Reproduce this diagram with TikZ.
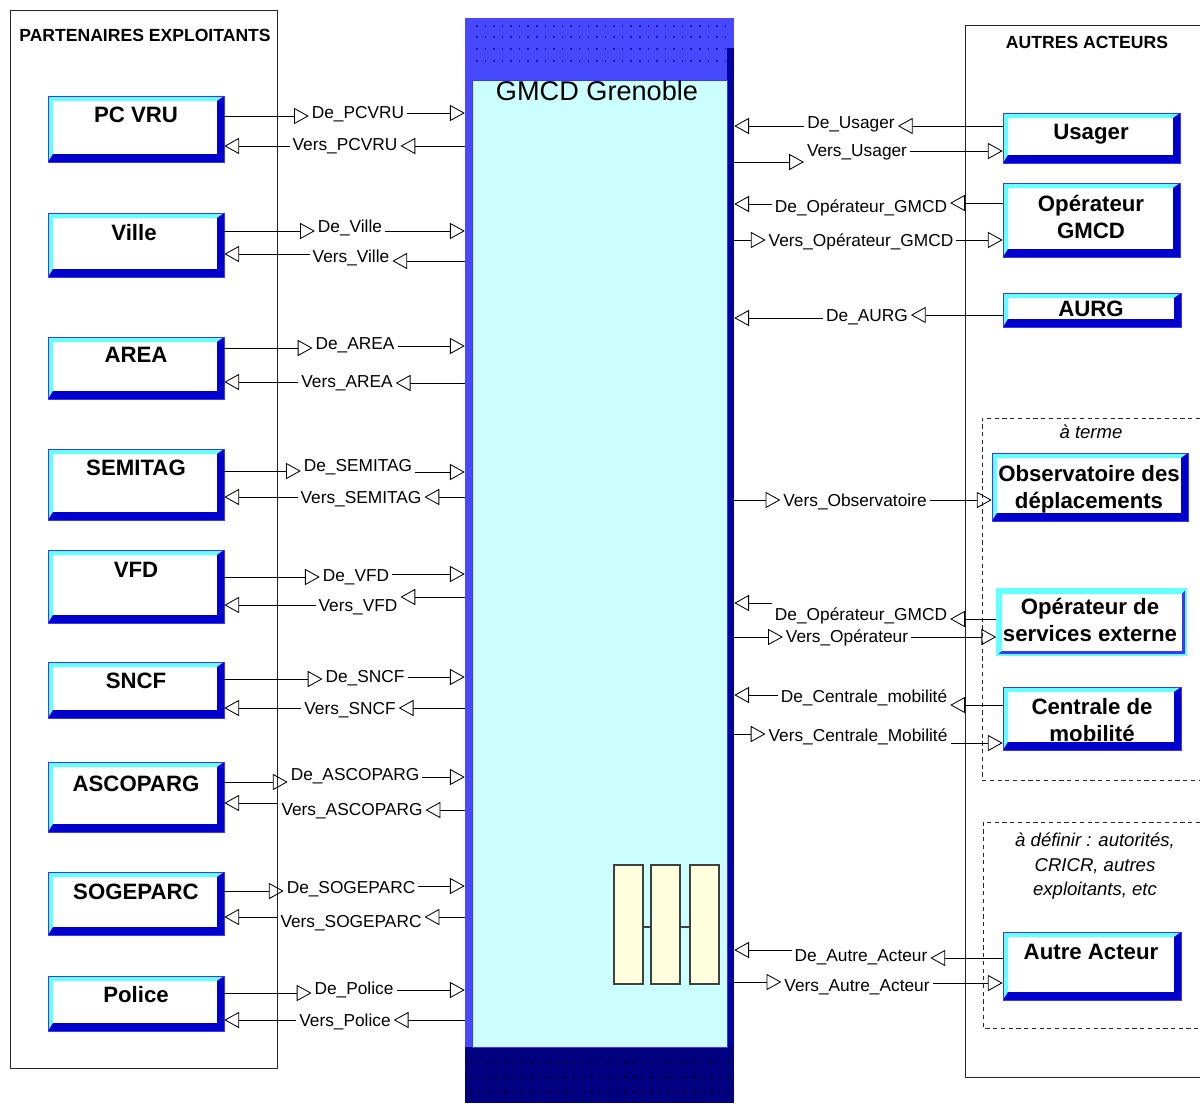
\documentclass[tikz,border=0pt]{standalone}
\usepackage{fontspec}
\setmainfont{Liberation Sans}
\usetikzlibrary{arrows.meta,fit}
\definecolor{bcyan}{HTML}{66FFFF}
\definecolor{bdark}{HTML}{0000CC}
\definecolor{bline}{HTML}{3838FF}
\definecolor{colblue}{HTML}{4848FF}
\definecolor{colnavy}{HTML}{0000A0}
\definecolor{botnavy}{HTML}{000080}
\definecolor{interior}{HTML}{CCFFFF}
\definecolor{ylw}{HTML}{FFFFDD}
\definecolor{dotblue}{HTML}{1818A8}
\newcommand\myfs[2]{\fontsize{#1}{#2}\selectfont}
% rightward connector: source, seg1 y, label name, label x, label y, text, target, seg2 y
\newcommand\cR[8]{%
 \node[lbl] (#3) at (#4,#5) {#6};
 \draw[ln] (#1 |- 0,#2) -- (#3.west |- 0,#2);
 \draw[ln] (#3.east |- 0,#8) -- (#7 |- 0,#8);}
% leftward connector
\newcommand\cL[8]{%
 \node[lbl] (#3) at (#4,#5) {#6};
 \draw[ln] (#1 |- 0,#2) -- (#3.east |- 0,#2);
 \draw[ln] (#3.west |- 0,#8) -- (#7 |- 0,#8);}
\begin{document}
\begin{tikzpicture}[x=0.025cm,y=-0.025cm,
 oa/.tip={Triangle[open,length=10.5pt,width=11.5pt,line width=0.6pt]},
 ln/.style={line width=0.7pt,-{oa}},
 lbl/.style={font=\myfs{12.3}{14},inner sep=2pt,text height=8.8pt,text depth=0pt},
 btxt/.style={font=\bfseries\myfs{15.8}{19.2},align=center,inner sep=0pt,text height=11.3pt,text depth=0pt},
 ttl/.style={font=\bfseries\myfs{12.5}{14},inner sep=0pt,text height=9pt,text depth=0pt},
 note/.style={font=\itshape\myfs{13.2}{17.4},align=center,inner sep=0pt,text height=9.5pt,text depth=0pt},
 bevel/.style={inner sep=0pt,draw=bline,line width=0.5pt,fill=white,
  path picture={
   \fill[bcyan] (path picture bounding box.north west) -- (path picture bounding box.north east)
     -- ([shift={(-7,5)}]path picture bounding box.north east) -- ([shift={(5,5)}]path picture bounding box.north west)
     -- ([shift={(5,-8)}]path picture bounding box.south west) -- (path picture bounding box.south west) -- cycle;
   \fill[bdark] (path picture bounding box.north east) -- (path picture bounding box.south east)
     -- (path picture bounding box.south west) -- ([shift={(5,-8)}]path picture bounding box.south west)
     -- ([shift={(-7,-8)}]path picture bounding box.south east) -- ([shift={(-7,5)}]path picture bounding box.north east) -- cycle;
  }},
 bevelb/.style={inner sep=0pt,draw=bcyan,line width=1.2pt,fill=white,
  path picture={
   \fill[bcyan] (path picture bounding box.north west) -- (path picture bounding box.north east)
     -- ([shift={(-4,5)}]path picture bounding box.north east) -- ([shift={(5,5)}]path picture bounding box.north west)
     -- ([shift={(5,-4)}]path picture bounding box.south west) -- (path picture bounding box.south west) -- cycle;
   \fill[bline] (path picture bounding box.north east) -- (path picture bounding box.south east)
     -- (path picture bounding box.south west) -- ([shift={(5,-4)}]path picture bounding box.south west)
     -- ([shift={(-4,-4)}]path picture bounding box.south east) -- ([shift={(-4,5)}]path picture bounding box.north east) -- cycle;
  }},
 yrect/.style={inner sep=0pt,draw=black!75,line width=0.8pt,fill=ylw},
 frame/.style={line width=0.7pt,draw=black!85},
 dframe/.style={line width=0.7pt,draw=black!85,dash pattern=on 3pt off 2.5pt}
]
\useasboundingbox (0,0) rectangle (1200,1103);
\fill[white] (0,0) rectangle (1200,1103);

% ---------- frames ----------
\draw[frame] (10,10) rectangle (277,1068);
\node[ttl] (tleft) at (145,35) {PARTENAIRES EXPLOITANTS};
\draw[frame] (1200,25) -- (965,25) -- (965,1077) -- (1200,1077);
\node[ttl] (tright) at (1087,42) {AUTRES ACTEURS};
\draw[dframe] (1200,418) -- (982,418) -- (982,780) -- (1200,780);
\node[note] (aterme) at (1091,432) {à terme};
\draw[dframe] (1200,822) -- (983,822) -- (983,1028) -- (1200,1028);
\node[note] (adefinir) at (1095,889) {à définir : autorités,\\CRICR, autres\\exploitants, etc};

% ---------- central column ----------
\node[inner sep=0pt,fit={(465,18) (734,1103)}] (col) {};
\fill[colblue] (col.north west) rectangle (col.south east);
\fill[colnavy] (727,48) rectangle (734,1047);
\fill[botnavy] (465,1047) rectangle (734,1103);
\filldraw[fill=interior,draw=bline,line width=0.6pt] (472,80) rectangle (727,1047);
\foreach \yy in {26,37,49,61}
  \draw[dotblue,line width=1.1pt,dash pattern=on 1.1pt off 5pt] (476,\yy) -- (728,\yy);
\foreach \yy in {1062,1077,1092}
  \draw[black,line width=1.1pt,dash pattern=on 1.1pt off 5pt] (470,\yy) -- (730,\yy);
\node[font=\myfs{19.3}{22},inner sep=0pt,text height=13.8pt,text depth=0pt] (gmcd) at (597,91) {GMCD Grenoble};
\node[yrect,fit={(614,865) (643,984)}] (y1) {};
\node[yrect,fit={(651,865) (680,984)}] (y2) {};
\node[yrect,fit={(690,865) (719,984)}] (y3) {};
\draw[line width=0.8pt,black!75] (y1.east |- 0,927) -- (y2.west |- 0,927);
\draw[line width=0.8pt,black!75] (y2.east |- 0,927) -- (y3.west |- 0,927);

% ---------- left boxes ----------
\node[bevel,fit={(48,96) (224,162)}] (pcvru) {};
\node[btxt] (pcvru-t) at (136,115) {PC VRU};
\node[bevel,fit={(48,213) (224,277)}] (ville) {};
\node[btxt] (ville-t) at (134,233) {Ville};
\node[bevel,fit={(48,337) (224,399)}] (area) {};
\node[btxt] (area-t) at (136,355) {AREA};
\node[bevel,fit={(48,449) (224,520)}] (semitag) {};
\node[btxt] (semitag-t) at (136,468) {SEMITAG};
\node[bevel,fit={(48,550) (224,623)}] (vfd) {};
\node[btxt] (vfd-t) at (136,570) {VFD};
\node[bevel,fit={(48,662) (224,718)}] (sncf) {};
\node[btxt] (sncf-t) at (136,681) {SNCF};
\node[bevel,fit={(48,762) (224,832)}] (ascoparg) {};
\node[btxt] (ascoparg-t) at (136,784) {ASCOPARG};
\node[bevel,fit={(48,872) (224,935)}] (sogeparc) {};
\node[btxt] (sogeparc-t) at (136,892) {SOGEPARC};
\node[bevel,fit={(48,976) (224,1031)}] (police) {};
\node[btxt] (police-t) at (136,995) {Police};

% ---------- right boxes ----------
\node[bevel,fit={(1003,113) (1180,163)}] (usager) {};
\node[btxt] (usager-t) at (1091,132) {Usager};
\node[bevel,fit={(1003,183) (1180,257)}] (opgmcd) {};
\node[btxt] (opgmcd-t) at (1091,231) {Opérateur\\GMCD};
\node[bevel,fit={(1003,293) (1181,327)}] (aurg) {};
\node[btxt] (aurg-t) at (1091,309) {AURG};
\node[bevel,fit={(992,453) (1188,521)}] (obs) {};
\node[btxt] (obs-t) at (1089,501) {Observatoire des\\déplacements};
\node[bevelb,fit={(997,589) (1186,655)}] (opserv) {};
\node[btxt] (opserv-t) at (1090,634) {Opérateur de\\services externe};
\node[bevel,fit={(1003,687) (1181,750)}] (centrale) {};
\node[btxt] (centrale-t) at (1092,734) {Centrale de\\mobilité};
\node[bevel,fit={(1003,932) (1181,1000)}] (autre) {};
\node[btxt] (autre-t) at (1091,952) {Autre Acteur};

% ---------- left connectors ----------
\cR{pcvru.east}{116}{l1a}{358}{112}{De\_PCVRU}{col.west}{113}
\cL{col.west}{146}{l1b}{345}{144}{Vers\_PCVRU}{pcvru.east}{146}
\cR{ville.east}{231}{l2a}{350}{226}{De\_Ville}{col.west}{231}
\cL{col.west}{261}{l2b}{351}{256}{Vers\_Ville}{ville.east}{254}
\cR{area.east}{348}{l3a}{355}{343}{De\_AREA}{col.west}{346}
\cL{col.west}{383}{l3b}{347}{381}{Vers\_AREA}{area.east}{382}
\cR{semitag.east}{471}{l4a}{358}{465}{De\_SEMITAG}{col.west}{472}
\cL{col.west}{497}{l4b}{361}{497}{Vers\_SEMITAG}{semitag.east}{497}
\cR{vfd.east}{577}{l5a}{356}{575}{De\_VFD}{col.west}{574}
\cL{col.west}{597}{l5b}{358}{605}{Vers\_VFD}{vfd.east}{605}
\cR{sncf.east}{679}{l6a}{365}{676}{De\_SNCF}{col.west}{677}
\cL{col.west}{708}{l6b}{350}{708}{Vers\_SNCF}{sncf.east}{708}
\cR{ascoparg.east}{782}{l7a}{355}{774}{De\_ASCOPARG}{col.west}{777}
\cL{col.west}{810}{l7b}{352}{809}{Vers\_ASCOPARG}{ascoparg.east}{803}
\cR{sogeparc.east}{891}{l8a}{351}{887}{De\_SOGEPARC}{col.west}{886}
\cL{col.west}{917}{l8b}{351}{921}{Vers\_SOGEPARC}{sogeparc.east}{917}
\cR{police.east}{993}{l9a}{354}{988}{De\_Police}{col.west}{990}
\cL{col.west}{1020}{l9b}{345}{1020}{Vers\_Police}{police.east}{1020}

% ---------- right connectors ----------
\cL{usager.west}{126}{r1a}{851}{122}{De\_Usager}{col.east}{126}
\cR{col.east}{162}{r1b}{857}{150}{Vers\_Usager}{usager.west}{151}
\cL{opgmcd.west}{203}{r2a}{861}{206}{De\_Opérateur\_GMCD}{col.east}{204}
\cR{col.east}{240}{r2b}{861}{240}{Vers\_Opérateur\_GMCD}{opgmcd.west}{240}
\cL{aurg.west}{315}{r3a}{867}{315}{De\_AURG}{col.east}{318}
\cR{col.east}{500}{r4b}{855}{500}{Vers\_Observatoire}{obs.west}{500}
\cL{opserv.west}{619}{r5a}{861}{614}{De\_Opérateur\_GMCD}{col.east}{603}
\cR{col.east}{637}{r5b}{847}{636}{Vers\_Opérateur}{opserv.west}{637}
\cL{centrale.west}{705}{r6a}{864}{696}{De\_Centrale\_mobilité}{col.east}{695}
\cR{col.east}{734}{r6b}{858}{735}{Vers\_Centrale\_Mobilité}{centrale.west}{743}
\cL{autre.west}{958}{r7a}{861}{955}{De\_Autre\_Acteur}{col.east}{950}
\cR{col.east}{982}{r7b}{857}{985}{Vers\_Autre\_Acteur}{autre.west}{983}
\end{tikzpicture}
\end{document}
